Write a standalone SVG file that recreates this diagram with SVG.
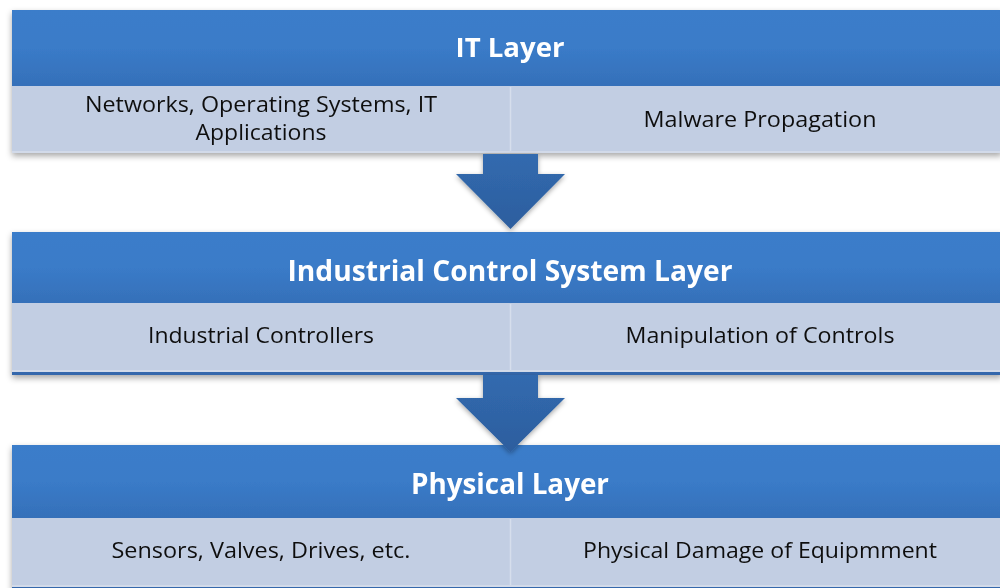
<svg xmlns="http://www.w3.org/2000/svg" width="1000" height="588" viewBox="0 0 1000 588">
<defs>
<linearGradient id="hdr" x1="0" y1="0" x2="0" y2="1">
<stop offset="0" stop-color="#3B7DCA"/>
<stop offset="0.5" stop-color="#3A7BC8"/>
<stop offset="1" stop-color="#3570B9"/>
</linearGradient>
<linearGradient id="arr" x1="0" y1="0" x2="0" y2="1">
<stop offset="0" stop-color="#316AAF"/>
<stop offset="1" stop-color="#2D5E9E"/>
</linearGradient>
<filter id="sh" x="-5%" y="-10%" width="110%" height="130%">
<feDropShadow dx="0" dy="3" stdDeviation="3" flood-color="#000" flood-opacity="0.35"/>
</filter>
<filter id="ash" x="-20%" y="-20%" width="140%" height="140%">
<feDropShadow dx="0" dy="2" stdDeviation="2.5" flood-color="#000" flood-opacity="0.35"/>
</filter>
</defs>
<style>
.hdr{fill:url(#hdr)}
.cell{fill:#C2CEE3}
.div{stroke:#D6DEEC;stroke-width:1.5}
.edge{fill:#D2DAE9}
.strip{fill:#3468AC}
.title{font-family:"Open Sans","Liberation Sans",sans-serif;font-weight:bold;fill:#FFFFFF;text-anchor:middle}
.txt{font-family:"Open Sans","Liberation Sans",sans-serif;font-size:21px;fill:#111111;text-anchor:middle}
.arrow{fill:url(#arr)}
</style>
<rect width="1000" height="588" fill="#FFFFFF"/>

<g id="it-layer" filter="url(#sh)">
<rect class="cell" x="12" y="10" width="990" height="143"/>
<rect class="hdr" x="12" y="10" width="990" height="76"/>
<rect class="edge" x="12" y="151" width="990" height="2"/>
<line class="div" x1="510.5" y1="87" x2="510.5" y2="151"/>
<text class="title" x="510" y="57" font-size="27" textLength="109" lengthAdjust="spacingAndGlyphs">IT Layer</text>
<text class="txt" x="261" y="112" textLength="352" lengthAdjust="spacingAndGlyphs">Networks, Operating Systems, IT</text>
<text class="txt" x="261" y="140" textLength="131" lengthAdjust="spacingAndGlyphs">Applications</text>
<text class="txt" x="760" y="127" textLength="233" lengthAdjust="spacingAndGlyphs">Malware Propagation</text>
</g>

<g id="ics-layer" filter="url(#sh)">
<rect class="cell" x="12" y="232" width="990" height="143"/>
<rect class="hdr" x="12" y="232" width="990" height="71"/>
<rect class="edge" x="12" y="370" width="990" height="2"/>
<rect class="strip" x="12" y="372" width="990" height="3"/>
<line class="div" x1="510.5" y1="304" x2="510.5" y2="370"/>
<text class="title" x="510" y="281" font-size="28" textLength="445" lengthAdjust="spacingAndGlyphs">Industrial Control System Layer</text>
<text class="txt" x="261" y="343" textLength="226" lengthAdjust="spacingAndGlyphs">Industrial Controllers</text>
<text class="txt" x="760" y="343" textLength="269" lengthAdjust="spacingAndGlyphs">Manipulation of Controls</text>
</g>

<g id="physical-layer" filter="url(#sh)">
<rect class="cell" x="12" y="445" width="990" height="145"/>
<rect class="hdr" x="12" y="445" width="990" height="73"/>
<rect class="edge" x="12" y="585" width="990" height="2"/>
<rect class="strip" x="12" y="587" width="990" height="3"/>
<line class="div" x1="510.5" y1="519" x2="510.5" y2="585"/>
<text class="title" x="510" y="494" font-size="28" textLength="198" lengthAdjust="spacingAndGlyphs">Physical Layer</text>
<text class="txt" x="261" y="558" textLength="299" lengthAdjust="spacingAndGlyphs">Sensors, Valves, Drives, etc.</text>
<text class="txt" x="760" y="558" textLength="354" lengthAdjust="spacingAndGlyphs">Physical Damage of Equipmment</text>
</g>

<g id="connectors">
<polygon class="arrow" filter="url(#ash)" points="483,154 538,154 538,174 565,174 510.5,229 456,174 483,174"/>
<polygon class="arrow" filter="url(#ash)" points="483,375 538,375 538,398 565,398 510.5,452 456,398 483,398"/>
</g>
</svg>
